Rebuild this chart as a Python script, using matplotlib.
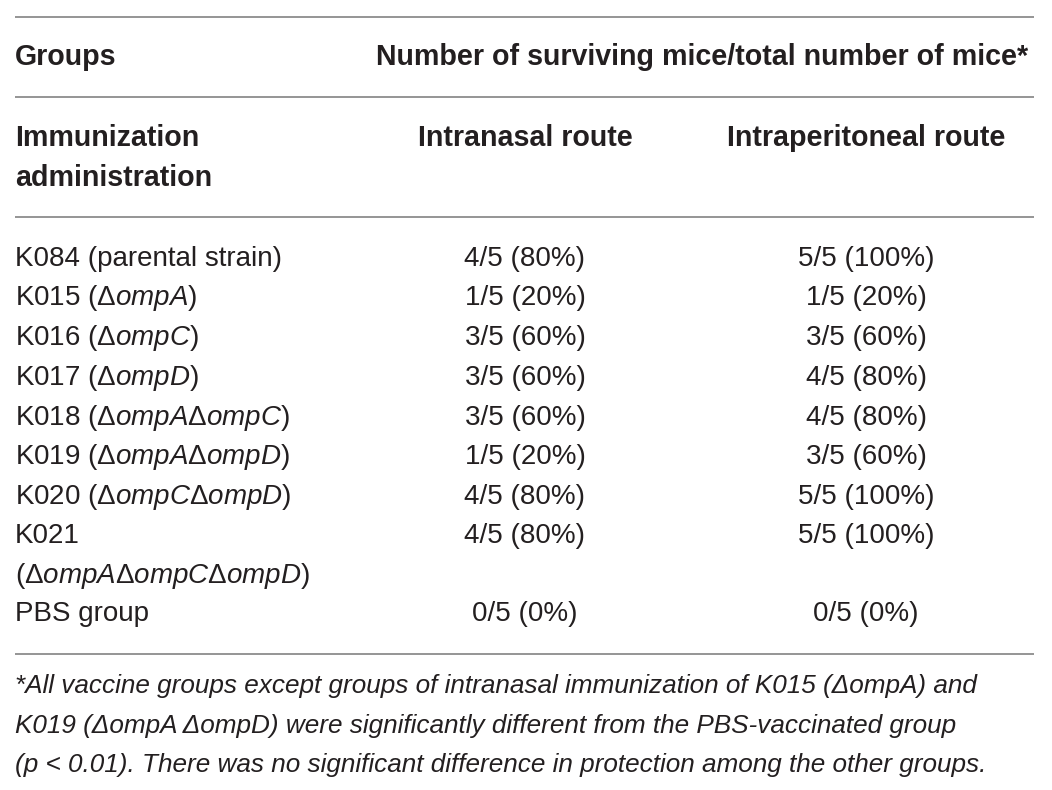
import matplotlib
matplotlib.use("Agg")
import matplotlib.pyplot as plt

plt.rcParams['font.family'] = ['Liberation Sans', 'DejaVu Sans']
plt.rcParams['mathtext.fontset'] = 'custom'
plt.rcParams['mathtext.rm'] = 'Liberation Sans'
plt.rcParams['mathtext.it'] = 'Liberation Sans:italic'

# table contents
group_labels = [
    'K084 (parental strain)',
    'K015 (Δ$\\mathit{ompA}$)',
    'K016 (Δ$\\mathit{ompC}$)',
    'K017 (Δ$\\mathit{ompD}$)',
    'K018 (Δ$\\mathit{ompA}$Δ$\\mathit{ompC}$)',
    'K019 (Δ$\\mathit{ompA}$Δ$\\mathit{ompD}$)',
    'K020 (Δ$\\mathit{ompC}$Δ$\\mathit{ompD}$)',
    'K021\n(Δ$\\mathit{ompA}$Δ$\\mathit{ompC}$Δ$\\mathit{ompD}$)',
    'PBS group',
]
intranasal = ['4/5 (80%)', '1/5 (20%)', '3/5 (60%)', '3/5 (60%)', '3/5 (60%)',
              '1/5 (20%)', '4/5 (80%)', '4/5 (80%)', '0/5 (0%)']
intraperitoneal = ['5/5 (100%)', '1/5 (20%)', '3/5 (60%)', '4/5 (80%)', '4/5 (80%)',
                   '3/5 (60%)', '5/5 (100%)', '5/5 (100%)', '0/5 (0%)']
header_top = ['Groups', 'Number of surviving mice/total number of mice*']
header_sub = ['Immunization\nadministration', 'Intranasal route', 'Intraperitoneal route']
footnote = ['*All vaccine groups except groups of intranasal immunization of K015 (ΔompA) and',
            'K019 (ΔompA ΔompD) were significantly different from the PBS-vaccinated group',
            '(p < 0.01). There was no significant difference in protection among the other groups.']

W, H = 1052, 790
fig = plt.figure(figsize=(W / 100, H / 100), dpi=100)
ax = fig.add_axes([0, 0, 1, 1])
ax.set_xlim(0, W)
ax.set_ylim(H, 0)
ax.axis('off')

txt = '#231f20'
rule = '#8c8c8c'
fs = 20
fs_head = 20.6
fs_note = 18.8
line_h = 39.6
x_left, x_right = 15, 1034
col_x = [15, 525, 866]

for y in [17, 97, 217, 654]:
    ax.plot([x_left, x_right], [y, y], color=rule, lw=1.3, solid_capstyle='butt')

# header rows
ax.text(col_x[0], 57, header_top[0], fontsize=fs_head, fontweight='bold', color=txt,
        ha='left', va='center')
ax.text(702, 57, header_top[1], fontsize=fs_head, fontweight='bold', color=txt,
        ha='center', va='center')
for k, part in enumerate(header_sub[0].split('\n')):
    ax.text(col_x[0], 138 + k * 40, part, fontsize=fs_head, fontweight='bold', color=txt,
            ha='left', va='center')
ax.text(col_x[1], 138, header_sub[1], fontsize=fs_head, fontweight='bold', color=txt,
        ha='center', va='center')
ax.text(col_x[2], 138, header_sub[2], fontsize=fs_head, fontweight='bold', color=txt,
        ha='center', va='center')

# body rows
row_y = [259, 298, 338, 378, 418, 457, 497, 536, 614]
for i, y in enumerate(row_y):
    for k, part in enumerate(group_labels[i].split('\n')):
        ax.text(col_x[0], y + k * line_h, part, fontsize=fs, color=txt, ha='left', va='center')
    ax.text(col_x[1], y, intranasal[i], fontsize=fs, color=txt, ha='center', va='center')
    ax.text(col_x[2], y, intraperitoneal[i], fontsize=fs, color=txt, ha='center', va='center')

# footnote
for k, line in enumerate(footnote):
    ax.text(col_x[0], 686 + k * line_h, line, fontsize=fs_note, style='italic', color=txt,
            ha='left', va='center')

fig.savefig('out.png', dpi=100)
